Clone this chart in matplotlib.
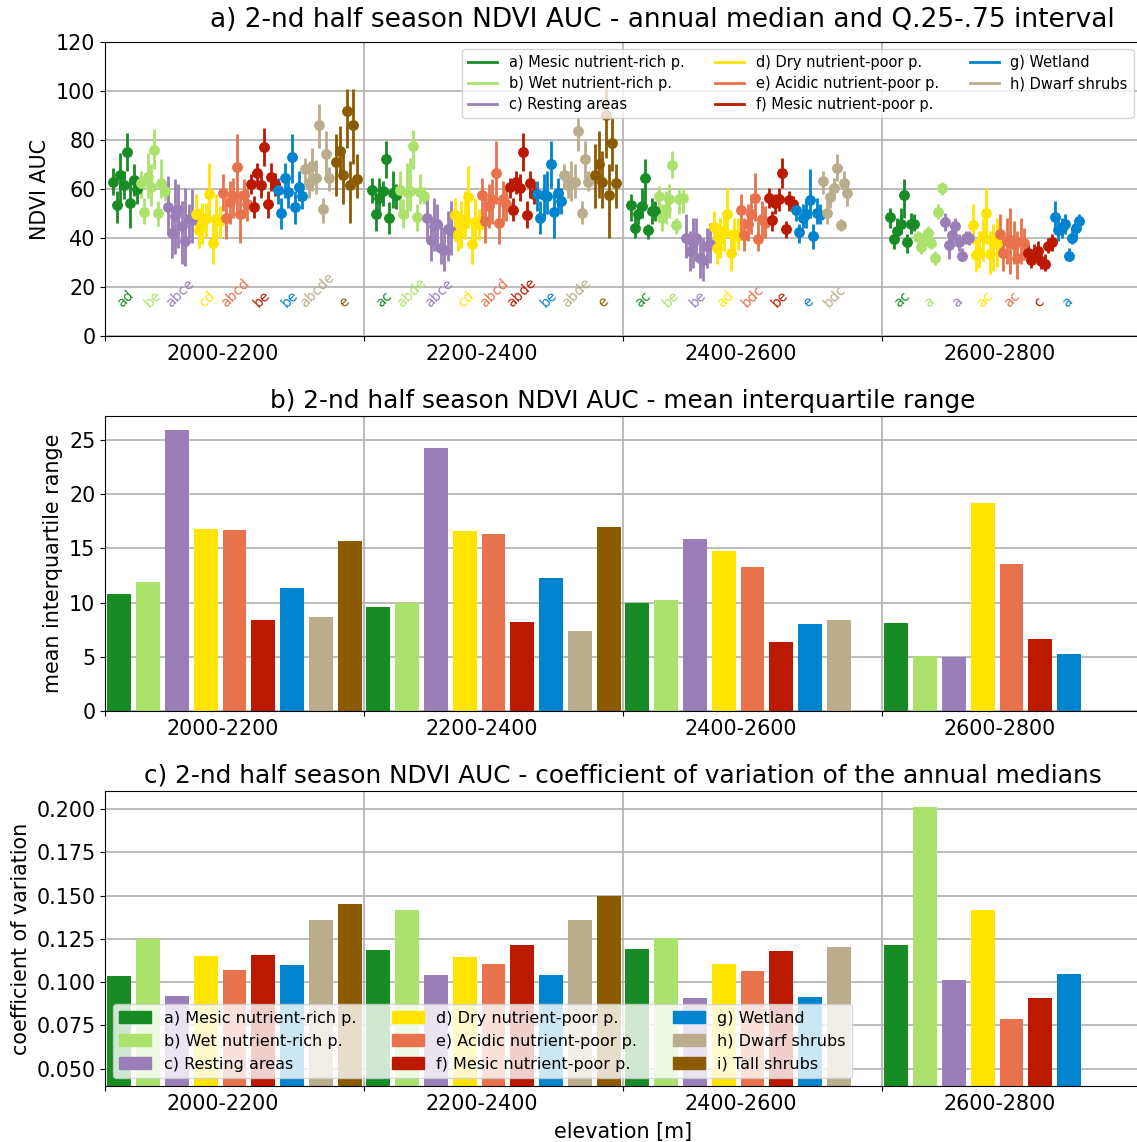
import numpy as np
import matplotlib.pyplot as plt
from matplotlib.patches import Patch
from matplotlib.lines import Line2D

# ── classes, colours and elevation bands ────────────────────────────
groups = ["2000-2200", "2200-2400", "2400-2600", "2600-2800"]
classes = [
    "a) Mesic nutrient-rich p.", "b) Wet nutrient-rich p.", "c) Resting areas",
    "d) Dry nutrient-poor p.", "e) Acidic nutrient-poor p.", "f) Mesic nutrient-poor p.",
    "g) Wetland", "h) Dwarf shrubs", "i) Tall shrubs",
]
colors = ["#178c25", "#abe26c", "#9a7eb7", "#ffe400", "#e8724b",
          "#bb1a00", "#0084d0", "#b9ad8b", "#8c5b00"]
nan = np.nan

# ── annual medians / quartiles per class (8 years each) ─────────────
med_2000 = [
    [63.0, 53.3, 65.7, 61.5, 75.2, 54.1, 63.7, 59.9],
    [62.3, 50.6, 65.0, 61.0, 75.8, 50.1, 62.4, 59.2],
    [52.7, 41.9, 49.0, 51.3, 44.9, 38.8, 47.6, 47.2],
    [49.9, 43.1, 46.3, 48.0, 57.8, 38.1, 47.9, 46.9],
    [58.5, 48.3, 54.7, 57.1, 69.0, 49.7, 57.6, 53.7],
    [61.9, 52.8, 66.4, 61.5, 77.3, 54.0, 64.9, 62.0],
    [59.6, 50.2, 64.6, 58.9, 73.1, 52.8, 61.0, 57.1],
    [68.0, 62.6, 69.4, 64.6, 86.0, 52.0, 74.1, 64.4],
    [nan, 71.0, 75.5, 65.7, 91.8, 61.5, 86.1, 64.2],
]
q25_2000 = [
    [57.6, 46.3, 53.7, 55.8, 67.3, 44.2, 57.1, 53.7],
    [56.5, 45.6, 56.5, 53.1, 68.0, 44.9, 56.5, 55.1],
    [41.5, 32.0, 33.3, 36.1, 29.3, 28.6, 40.1, 38.0],
    [41.5, 36.1, 37.4, 40.1, 46.3, 29.3, 37.4, 40.0],
    [51.0, 39.5, 45.6, 48.3, 50.3, 38.1, 48.3, 47.0],
    [57.8, 48.3, 61.9, 56.5, 69.4, 48.3, 59.2, 57.0],
    [53.7, 43.5, 56.5, 52.4, 62.6, 45.6, 55.1, 52.0],
    [61.9, 56.5, 59.2, 58.0, 76.9, 46.3, 64.6, 59.0],
    [nan, 57.1, 64.6, 53.7, 76.9, 46.3, 70.1, 56.5],
]
q75_2000 = [
    [68.4, 59.2, 74.8, 67.3, 83.0, 63.3, 70.1, 64.6],
    [67.3, 56.5, 74.8, 70.1, 84.4, 55.1, 72.1, 63.3],
    [65.3, 52.4, 63.9, 61.9, 55.1, 60.5, 53.7, 60.0],
    [57.8, 52.4, 54.4, 54.4, 70.7, 46.3, 57.8, 53.0],
    [66.0, 56.5, 63.3, 64.6, 82.3, 59.2, 63.9, 60.5],
    [66.0, 57.1, 70.7, 66.0, 85.0, 59.2, 70.7, 66.5],
    [64.6, 56.5, 70.7, 66.0, 82.3, 59.2, 67.3, 62.0],
    [72.8, 68.7, 76.9, 72.0, 94.6, 56.5, 83.7, 69.0],
    [nan, 82.3, 85.7, 75.5, 100.7, 71.4, 100.7, 74.1],
]

med_2200 = [
    [59.6, 49.7, 56.5, 59.2, 72.1, 48.3, 58.5, 57.6],
    [59.5, 49.9, 58.9, 59.2, 77.6, 48.6, 58.9, 57.0],
    [48.3, 39.2, 44.9, 45.6, 36.1, 35.1, 43.5, 43.0],
    [49.4, 41.5, 44.9, 47.6, 56.9, 37.7, 46.7, 45.5],
    [57.6, 46.9, 53.1, 55.8, 66.7, 46.3, 55.8, 54.0],
    [60.8, 51.4, 63.0, 60.5, 75.1, 49.4, 62.6, 58.0],
    [57.8, 48.3, 57.6, 57.1, 70.1, 50.7, 58.2, 55.1],
    [65.7, 61.6, 63.0, 63.0, 83.5, 50.3, 72.4, 63.0],
    [nan, 65.7, 70.3, 63.0, 90.2, 57.6, 78.9, 62.3],
]
q25_2200 = [
    [54.4, 42.9, 48.3, 53.1, 64.6, 41.5, 52.4, 52.0],
    [51.0, 44.2, 48.3, 51.0, 68.0, 42.9, 53.7, 54.0],
    [38.8, 30.6, 34.7, 34.7, 29.3, 26.5, 30.6, 33.0],
    [38.8, 34.7, 36.1, 39.5, 44.2, 29.3, 36.1, 39.0],
    [48.3, 38.1, 44.2, 45.6, 53.7, 37.4, 46.9, 47.0],
    [56.5, 46.9, 57.8, 55.1, 67.3, 44.2, 56.5, 54.0],
    [51.0, 41.5, 48.3, 49.7, 60.5, 40.1, 51.0, 49.7],
    [60.5, 56.5, 55.1, 56.5, 75.5, 45.6, 64.6, 59.2],
    [nan, 52.4, 56.5, 52.4, 72.8, 40.1, 67.3, 52.4],
]
q75_2200 = [
    [64.6, 57.8, 64.6, 63.3, 79.6, 54.7, 67.3, 62.0],
    [67.3, 55.8, 70.7, 72.8, 84.1, 53.7, 66.0, 61.0],
    [57.8, 48.3, 56.5, 53.7, 45.6, 44.2, 51.0, 55.0],
    [56.5, 49.7, 55.1, 59.2, 69.4, 45.6, 56.5, 52.0],
    [64.6, 56.5, 61.9, 63.9, 79.6, 55.1, 63.3, 61.0],
    [64.6, 56.5, 67.3, 66.0, 83.0, 55.1, 67.3, 62.0],
    [63.3, 55.1, 66.0, 67.3, 79.6, 57.8, 64.6, 60.5],
    [70.1, 67.3, 71.4, 70.1, 89.8, 55.1, 79.6, 67.3],
    [nan, 78.2, 83.7, 75.5, 101.4, 70.1, 89.4, 70.1],
]

med_2400 = [
    [53.3, 44.2, 49.9, 53.1, 64.6, 43.1, 51.0, 51.0],
    [57.1, 48.3, 51.7, 55.8, 69.8, 45.3, 55.8, 56.2],
    [40.1, 34.7, 38.1, 40.1, 31.7, 30.9, 36.7, 37.5],
    [44.5, 36.1, 39.5, 42.9, 49.9, 34.0, 41.5, 41.0],
    [51.4, 41.2, 45.9, 49.9, 56.2, 39.5, 47.6, 46.0],
    [56.2, 47.2, 54.4, 55.8, 66.7, 43.8, 55.5, 54.0],
    [51.4, 42.6, 48.3, 49.9, 55.5, 40.8, 50.3, 49.4],
    [63.3, 50.3, 56.7, 60.5, 68.7, 45.3, 62.6, 58.5],
]
q25_2400 = [
    [46.9, 40.1, 45.6, 48.3, 53.7, 39.5, 45.6, 46.9],
    [52.4, 42.9, 45.6, 48.3, 64.6, 41.5, 49.7, 50.3],
    [32.0, 26.5, 27.9, 30.6, 23.8, 22.4, 27.9, 30.0],
    [37.4, 29.3, 32.0, 34.7, 40.1, 26.5, 33.3, 35.0],
    [42.9, 34.7, 38.8, 41.5, 46.9, 34.7, 40.1, 40.0],
    [52.4, 42.9, 49.7, 51.0, 60.5, 40.1, 51.0, 51.0],
    [46.9, 38.1, 44.2, 44.2, 48.3, 35.4, 45.6, 45.6],
    [57.8, 45.6, 52.4, 56.5, 63.3, 42.9, 57.8, 53.1],
]
q75_2400 = [
    [57.8, 49.7, 53.7, 60.5, 72.1, 45.6, 56.5, 55.1],
    [61.2, 53.7, 59.2, 61.9, 75.5, 48.3, 60.5, 60.5],
    [49.7, 42.9, 48.3, 48.3, 40.1, 40.1, 44.2, 46.0],
    [51.0, 42.9, 48.3, 49.7, 60.5, 41.5, 48.3, 48.0],
    [57.8, 48.3, 53.7, 57.8, 66.7, 46.9, 55.1, 53.0],
    [60.5, 51.0, 57.8, 60.5, 72.8, 46.9, 59.2, 57.0],
    [55.1, 45.6, 53.7, 55.1, 68.0, 45.6, 56.5, 53.7],
    [67.3, 55.1, 60.5, 64.6, 74.1, 47.6, 67.3, 62.6],
]

med_2600 = [
    [48.7, 39.5, 42.9, 45.9, 57.4, 38.5, 45.9, 45.9],
    [40.4, 36.3, 39.0, 42.2, 38.0, 31.7, 50.7, 60.3],
    [46.7, 37.1, 41.2, 44.9, 38.5, 32.7, 40.1, 40.0],
    [45.3, 33.1, 34.4, 40.8, 50.3, 33.6, 38.5, 38.0],
    [41.5, 34.0, 38.8, 39.0, 37.7, 32.0, 38.5, 38.0],
    [34.0, 30.9, 33.6, 34.7, 30.6, 29.3, 36.7, 38.5],
    [48.7, 43.1, 44.2, 45.9, 32.7, 40.1, 44.2, 46.9],
]
q25_2600 = [
    [44.2, 35.4, 40.1, 41.5, 48.3, 34.0, 41.5, 42.9],
    [38.0, 33.5, 36.5, 39.5, 35.5, 29.0, 47.6, 57.6],
    [42.9, 31.3, 37.4, 41.5, 34.7, 30.6, 37.4, 37.0],
    [37.4, 26.5, 27.9, 30.6, 37.4, 25.2, 26.5, 28.0],
    [34.7, 26.5, 29.3, 25.2, 29.3, 23.1, 29.3, 31.0],
    [30.6, 27.9, 29.3, 30.6, 27.2, 26.5, 34.0, 34.7],
    [42.9, 38.8, 40.1, 41.5, 30.6, 37.4, 40.1, 44.2],
]
q75_2600 = [
    [52.4, 42.9, 48.3, 52.4, 63.9, 41.5, 50.3, 49.7],
    [43.0, 39.0, 42.0, 45.0, 41.0, 34.5, 53.7, 63.0],
    [50.3, 40.1, 44.2, 48.3, 41.5, 36.1, 42.9, 43.0],
    [53.7, 40.1, 42.9, 48.3, 60.5, 42.9, 45.6, 48.0],
    [49.7, 41.5, 48.3, 52.4, 46.9, 42.9, 48.3, 44.0],
    [37.4, 34.7, 37.4, 38.8, 34.7, 33.3, 40.1, 41.5],
    [55.1, 46.9, 48.3, 49.7, 36.1, 44.2, 48.3, 49.7],
]

# significance letters below each class
letters = [
    ["ad", "be", "abce", "cd", "abcd", "be", "be", "abcde", "e"],
    ["ac", "abde", "abce", "cd", "abcd", "abde", "be", "abde", "e"],
    ["ac", "be", "be", "ad", "bdc", "be", "e", "bdc"],
    ["ac", "a", "a", "ac", "ac", "c", "a"],
]

# ── mean interquartile range ────────────────────────────────────────
iqr_2000 = [10.83, 11.94, 25.93, 16.76, 16.67, 8.43, 11.39, 8.70, 15.65]
iqr_2200 = [9.63, 9.97, 24.26, 16.57, 16.30, 8.24, 12.31, 7.41, 16.94]
iqr_2400 = [9.94, 10.28, 15.83, 14.81, 13.33, 6.39, 8.06, 8.43]
iqr_2600 = [8.15, 5.09, 4.94, 19.17, 13.61, 6.67, 5.28]

# ── coefficient of variation of the annual medians ──────────────────
cv_2000 = [0.1038, 0.1248, 0.0923, 0.1154, 0.1073, 0.1160, 0.1102, 0.1362, 0.1454]
cv_2200 = [0.1188, 0.1419, 0.1044, 0.1148, 0.1108, 0.1217, 0.1044, 0.1362, 0.1496]
cv_2400 = [0.1194, 0.1258, 0.0906, 0.1108, 0.1067, 0.1183, 0.0912, 0.1206]
cv_2600 = [0.1217, 0.2013, 0.1010, 0.1419, 0.0790, 0.0906, 0.1050]

med_all = [med_2000, med_2200, med_2400, med_2600]
q25_all = [q25_2000, q25_2200, q25_2400, q25_2600]
q75_all = [q75_2000, q75_2200, q75_2400, q75_2600]
iqr_all = [iqr_2000, iqr_2200, iqr_2400, iqr_2600]
cv_all = [cv_2000, cv_2200, cv_2400, cv_2600]

SLOTS = 9          # class slots per elevation band
DX = 0.1192        # spacing between years inside a band
X0 = 0.288         # first year offset from band start

plt.rcParams["font.size"] = 14.9

W, H = 1137, 1142
fig = plt.figure(figsize=(W / 100, H / 100), dpi=100)


def make_axes(top_px, bottom_px):
    left, right = 105 / W, 1141 / W
    return fig.add_axes([left, 1 - bottom_px / H, right - left, (bottom_px - top_px) / H])


def style_xaxis(ax):
    ax.set_xlim(-0.5, SLOTS * len(groups) - 0.5)
    ax.set_xticks([g * SLOTS - 0.5 for g in range(len(groups))])
    ax.set_xticklabels([])
    ax.set_xticks([g * SLOTS + 3.6 for g in range(len(groups))], minor=True)
    ax.set_xticklabels(groups, minor=True)
    ax.tick_params(axis="x", which="minor", length=0, pad=6)
    ax.grid(True, color="#b0b0b0", linewidth=1.2)
    ax.set_axisbelow(True)


# ── a) annual median with Q.25-.75 interval ─────────────────────────
ax1 = make_axes(42, 336)
for g in range(len(groups)):
    for k, (med, lo, hi) in enumerate(zip(med_all[g], q25_all[g], q75_all[g])):
        med, lo, hi = np.array(med), np.array(lo), np.array(hi)
        x = g * SLOTS - 0.5 + X0 + (k * 8 + np.arange(len(med))) * DX
        ok = ~np.isnan(med)
        ax1.errorbar(x[ok], med[ok], yerr=[med[ok] - lo[ok], hi[ok] - med[ok]],
                     fmt="o", color=colors[k], ms=6.8, elinewidth=2.0, capsize=0)
        xc = g * SLOTS - 0.5 + X0 + (k * 8 + 3.5) * DX
        ax1.text(xc, 10.5, letters[g][k], color=colors[k], fontsize=10,
                 rotation=45, ha="center", va="bottom")
ax1.set_ylim(0, 120)
ax1.set_yticks(range(0, 121, 20))
ax1.set_ylabel("NDVI AUC")
style_xaxis(ax1)
ax1.set_title("a) 2-nd half season NDVI AUC - annual median and Q.25-.75 interval",
              fontsize=19, x=0.538, pad=10.5)
line_handles = [Line2D([], [], color=c, lw=2) for c in colors[:8]]
ax1.legend(line_handles, classes[:8], loc="upper right", ncol=3, fontsize=10.5,
           labelspacing=0.42, columnspacing=2.1)

# ── b) mean interquartile range ─────────────────────────────────────
ax2 = make_axes(416, 711)
for g in range(len(groups)):
    vals = iqr_all[g]
    ax2.bar(g * SLOTS + np.arange(len(vals)), vals, width=0.83, color=colors[:len(vals)])
ax2.set_ylabel("mean interquartile range")
ax2.set_yticks(range(0, 26, 5))
style_xaxis(ax2)
ax2.set_title("b) 2-nd half season NDVI AUC - mean interquartile range", fontsize=17.8)

# ── c) coefficient of variation ─────────────────────────────────────
ax3 = make_axes(791, 1086)
for g in range(len(groups)):
    vals = cv_all[g]
    ax3.bar(g * SLOTS + np.arange(len(vals)), vals, width=0.83, color=colors[:len(vals)])
ax3.set_ylim(0.04, 0.2105)
ax3.set_yticks(np.arange(0.05, 0.201, 0.025))
ax3.set_ylabel("coefficient of variation")
ax3.set_xlabel("elevation [m]", labelpad=5.5)
style_xaxis(ax3)
ax3.set_title("c) 2-nd half season NDVI AUC - coefficient of variation of the annual medians",
              fontsize=17.8)
patch_handles = [Patch(color=c) for c in colors]
ax3.legend(patch_handles, classes, loc="lower left", ncol=3, fontsize=11.5,
           framealpha=0.8, columnspacing=2.2)

fig.savefig("out.png", dpi=100)
